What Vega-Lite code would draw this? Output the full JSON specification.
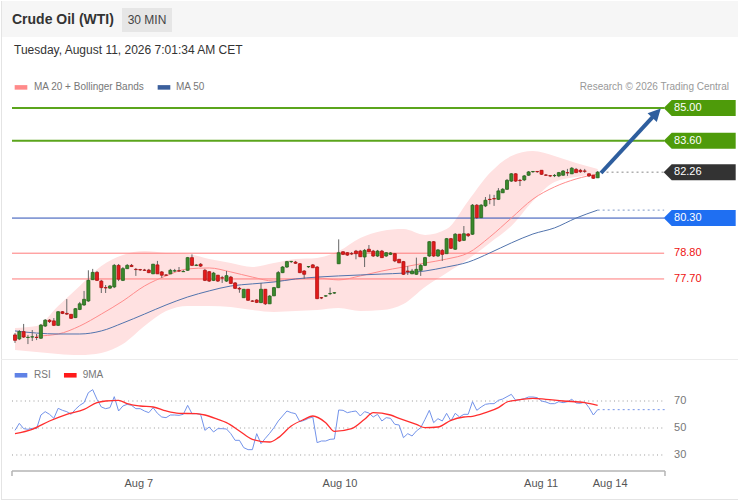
{
  "$schema": "https://vega.github.io/schema/vega-lite/v6.json",
  "padding": 0,
  "autosize": {"type": "pad"},
  "background": "#ffffff",
  "spacing": 0,
  "bounds": "flush",
  "config": {
    "view": {"stroke": null},
    "axis": {"disable": true},
    "scale": {"continuousPadding": 0},
    "font": "Liberation Sans"
  },
  "datasets": {
    "candles": [
      {"i":0,"o":75.31,"h":75.39,"l":74.97,"c":75.08},
      {"i":1,"o":75.14,"h":75.52,"l":75.09,"c":75.45},
      {"i":2,"o":75.45,"h":75.78,"l":75.18,"c":75.22},
      {"i":3,"o":75.20,"h":75.31,"l":74.92,"c":75.21},
      {"i":4,"o":75.22,"h":75.52,"l":75.05,"c":75.23},
      {"i":5,"o":75.21,"h":75.35,"l":75.09,"c":75.20},
      {"i":6,"o":75.17,"h":75.78,"l":75.14,"c":75.73},
      {"i":7,"o":75.69,"h":75.99,"l":75.65,"c":75.94},
      {"i":8,"o":75.94,"h":75.99,"l":75.82,"c":75.88},
      {"i":9,"o":75.91,"h":76.03,"l":75.69,"c":75.72},
      {"i":10,"o":75.72,"h":76.33,"l":75.69,"c":76.30},
      {"i":11,"o":76.30,"h":76.33,"l":76.20,"c":76.23},
      {"i":12,"o":76.23,"h":76.84,"l":76.16,"c":76.20},
      {"i":13,"o":76.19,"h":76.20,"l":75.99,"c":76.02},
      {"i":14,"o":76.05,"h":76.46,"l":76.03,"c":76.43},
      {"i":15,"o":76.40,"h":76.72,"l":76.37,"c":76.64},
      {"i":16,"o":76.59,"h":77.19,"l":76.55,"c":76.83},
      {"i":17,"o":76.76,"h":78.07,"l":76.72,"c":77.64},
      {"i":18,"o":77.67,"h":78.13,"l":77.66,"c":77.98},
      {"i":19,"o":77.98,"h":78.04,"l":77.61,"c":77.64},
      {"i":20,"o":77.61,"h":77.66,"l":77.10,"c":77.33},
      {"i":21,"o":77.33,"h":77.44,"l":77.10,"c":77.32},
      {"i":22,"o":77.31,"h":77.44,"l":77.27,"c":77.40},
      {"i":23,"o":77.36,"h":78.34,"l":77.31,"c":78.28},
      {"i":24,"o":78.28,"h":78.34,"l":77.61,"c":77.69},
      {"i":25,"o":77.64,"h":78.21,"l":77.61,"c":78.14},
      {"i":26,"o":78.14,"h":78.34,"l":78.13,"c":78.28},
      {"i":27,"o":78.28,"h":78.34,"l":78.21,"c":78.23},
      {"i":28,"o":78.11,"h":78.17,"l":77.83,"c":78.10},
      {"i":29,"o":78.10,"h":78.13,"l":78.04,"c":78.09},
      {"i":30,"o":78.08,"h":78.13,"l":78.04,"c":78.07},
      {"i":31,"o":78.08,"h":78.13,"l":77.95,"c":77.97},
      {"i":32,"o":77.92,"h":78.34,"l":77.91,"c":78.33},
      {"i":33,"o":78.30,"h":78.47,"l":77.91,"c":77.92},
      {"i":34,"o":78.00,"h":78.04,"l":77.75,"c":77.86},
      {"i":35,"o":77.87,"h":77.91,"l":77.83,"c":77.86},
      {"i":36,"o":77.92,"h":78.13,"l":77.91,"c":78.07},
      {"i":37,"o":78.04,"h":78.13,"l":78.00,"c":78.05},
      {"i":38,"o":78.05,"h":78.21,"l":78.00,"c":78.04},
      {"i":39,"o":78.01,"h":78.08,"l":78.00,"c":78.02},
      {"i":40,"o":78.07,"h":78.64,"l":78.04,"c":78.61},
      {"i":41,"o":78.61,"h":78.75,"l":78.25,"c":78.28},
      {"i":42,"o":78.28,"h":78.34,"l":78.25,"c":78.29},
      {"i":43,"o":78.33,"h":78.38,"l":78.21,"c":78.25},
      {"i":44,"o":78.07,"h":78.13,"l":77.61,"c":77.64},
      {"i":45,"o":78.01,"h":78.04,"l":77.57,"c":77.61},
      {"i":46,"o":77.64,"h":78.00,"l":77.61,"c":77.95},
      {"i":47,"o":77.86,"h":77.87,"l":77.57,"c":77.61},
      {"i":48,"o":77.75,"h":77.83,"l":77.53,"c":77.74},
      {"i":49,"o":77.61,"h":78.04,"l":77.57,"c":77.84},
      {"i":50,"o":77.78,"h":77.83,"l":77.49,"c":77.51},
      {"i":51,"o":77.53,"h":77.57,"l":77.27,"c":77.30},
      {"i":52,"o":77.30,"h":77.36,"l":77.11,"c":77.27},
      {"i":53,"o":76.90,"h":77.27,"l":76.89,"c":77.26},
      {"i":54,"o":77.26,"h":77.27,"l":76.76,"c":76.79},
      {"i":55,"o":76.76,"h":76.80,"l":76.72,"c":76.75},
      {"i":56,"o":76.80,"h":76.84,"l":76.67,"c":76.70},
      {"i":57,"o":76.69,"h":77.53,"l":76.67,"c":77.26},
      {"i":58,"o":77.26,"h":77.27,"l":76.59,"c":76.64},
      {"i":59,"o":76.64,"h":77.01,"l":76.63,"c":76.97},
      {"i":60,"o":76.98,"h":77.36,"l":76.97,"c":77.33},
      {"i":61,"o":77.33,"h":78.04,"l":77.31,"c":77.97},
      {"i":62,"o":77.97,"h":78.25,"l":77.95,"c":78.21},
      {"i":63,"o":78.21,"h":78.47,"l":78.17,"c":78.44},
      {"i":64,"o":78.44,"h":78.47,"l":78.38,"c":78.45},
      {"i":65,"o":78.42,"h":78.47,"l":78.34,"c":78.37},
      {"i":66,"o":78.35,"h":78.38,"l":77.95,"c":77.97},
      {"i":67,"o":78.04,"h":78.08,"l":77.71,"c":77.90},
      {"i":68,"o":78.22,"h":78.25,"l":78.17,"c":78.23},
      {"i":69,"o":78.30,"h":78.34,"l":78.17,"c":78.18},
      {"i":70,"o":78.21,"h":78.25,"l":76.84,"c":76.86},
      {"i":71,"o":76.90,"h":76.93,"l":76.84,"c":76.89},
      {"i":72,"o":76.97,"h":77.01,"l":76.93,"c":76.98},
      {"i":73,"o":77.07,"h":77.33,"l":77.01,"c":77.08},
      {"i":74,"o":77.10,"h":77.14,"l":77.06,"c":77.11},
      {"i":75,"o":78.35,"h":79.39,"l":78.34,"c":78.82},
      {"i":76,"o":78.86,"h":78.89,"l":78.72,"c":78.75},
      {"i":77,"o":78.82,"h":78.85,"l":78.68,"c":78.72},
      {"i":78,"o":78.78,"h":78.85,"l":78.72,"c":78.77},
      {"i":79,"o":78.89,"h":78.94,"l":78.54,"c":78.78},
      {"i":80,"o":78.89,"h":78.94,"l":78.64,"c":78.65},
      {"i":81,"o":78.64,"h":78.98,"l":78.21,"c":78.92},
      {"i":82,"o":78.97,"h":79.15,"l":78.85,"c":78.86},
      {"i":83,"o":78.89,"h":78.94,"l":78.64,"c":78.68},
      {"i":84,"o":78.68,"h":78.94,"l":78.64,"c":78.89},
      {"i":85,"o":78.89,"h":78.94,"l":78.60,"c":78.61},
      {"i":86,"o":78.68,"h":78.85,"l":78.64,"c":78.82},
      {"i":87,"o":78.75,"h":78.85,"l":78.72,"c":78.81},
      {"i":88,"o":78.78,"h":78.81,"l":78.42,"c":78.47},
      {"i":89,"o":78.54,"h":78.55,"l":78.38,"c":78.39},
      {"i":90,"o":78.44,"h":78.47,"l":77.87,"c":77.90},
      {"i":91,"o":78.04,"h":78.25,"l":77.87,"c":78.00},
      {"i":92,"o":77.92,"h":78.13,"l":77.91,"c":78.04},
      {"i":93,"o":77.90,"h":78.61,"l":77.87,"c":78.11},
      {"i":94,"o":78.07,"h":78.34,"l":77.83,"c":78.28},
      {"i":95,"o":78.28,"h":78.64,"l":78.25,"c":78.61},
      {"i":96,"o":78.68,"h":79.32,"l":78.64,"c":79.29},
      {"i":97,"o":79.29,"h":79.32,"l":78.64,"c":78.68},
      {"i":98,"o":78.68,"h":78.98,"l":78.64,"c":78.94},
      {"i":99,"o":78.92,"h":78.98,"l":78.47,"c":78.75},
      {"i":100,"o":78.78,"h":79.45,"l":78.77,"c":79.42},
      {"i":101,"o":79.42,"h":79.45,"l":78.98,"c":79.01},
      {"i":102,"o":78.97,"h":79.66,"l":78.94,"c":79.61},
      {"i":103,"o":79.61,"h":79.62,"l":79.28,"c":79.32},
      {"i":104,"o":79.35,"h":79.96,"l":79.32,"c":79.63},
      {"i":105,"o":79.62,"h":79.66,"l":79.49,"c":79.55},
      {"i":106,"o":79.61,"h":80.90,"l":79.58,"c":80.85},
      {"i":107,"o":80.85,"h":80.90,"l":80.26,"c":80.32},
      {"i":108,"o":80.32,"h":80.90,"l":80.30,"c":80.85},
      {"i":109,"o":80.82,"h":81.20,"l":80.77,"c":81.06},
      {"i":110,"o":81.10,"h":81.31,"l":80.89,"c":81.09},
      {"i":111,"o":81.13,"h":81.29,"l":80.82,"c":81.12},
      {"i":112,"o":81.10,"h":81.58,"l":81.07,"c":81.46},
      {"i":113,"o":81.38,"h":81.58,"l":81.37,"c":81.53},
      {"i":114,"o":81.53,"h":81.97,"l":81.50,"c":81.91},
      {"i":115,"o":81.88,"h":82.22,"l":81.84,"c":82.19},
      {"i":116,"o":82.19,"h":82.22,"l":81.84,"c":81.88},
      {"i":117,"o":81.91,"h":81.97,"l":81.67,"c":81.90},
      {"i":118,"o":81.93,"h":82.14,"l":81.88,"c":82.10},
      {"i":119,"o":82.13,"h":82.31,"l":82.10,"c":82.27},
      {"i":120,"o":82.28,"h":82.31,"l":82.23,"c":82.29},
      {"i":121,"o":82.29,"h":82.31,"l":82.23,"c":82.28},
      {"i":122,"o":82.34,"h":82.35,"l":82.14,"c":82.17},
      {"i":123,"o":82.14,"h":82.18,"l":82.10,"c":82.13},
      {"i":124,"o":82.11,"h":82.14,"l":82.05,"c":82.10},
      {"i":125,"o":82.11,"h":82.18,"l":82.05,"c":82.12},
      {"i":126,"o":82.10,"h":82.27,"l":82.05,"c":82.24},
      {"i":127,"o":82.13,"h":82.35,"l":82.10,"c":82.31},
      {"i":128,"o":82.24,"h":82.40,"l":82.10,"c":82.23},
      {"i":129,"o":82.19,"h":82.48,"l":82.18,"c":82.43},
      {"i":130,"o":82.38,"h":82.44,"l":82.23,"c":82.24},
      {"i":131,"o":82.34,"h":82.40,"l":82.23,"c":82.28},
      {"i":132,"o":82.31,"h":82.40,"l":82.23,"c":82.30},
      {"i":133,"o":82.19,"h":82.22,"l":82.05,"c":82.10},
      {"i":134,"o":82.13,"h":82.14,"l":81.97,"c":82.00},
      {"i":135,"o":82.02,"h":82.31,"l":82.01,"c":82.26}
    ],
    "bands": [
      {"i":0,"up":75.61,"lo":74.67,"ma50":75.48},
      {"i":5,"up":75.69,"lo":74.58,"ma20":75.26,"ma50":75.39},
      {"i":10,"up":76.55,"lo":74.50,"ma20":75.35,"ma50":75.35},
      {"i":15,"up":77.40,"lo":74.45,"ma20":75.69,"ma50":75.35},
      {"i":20,"up":78.25,"lo":74.54,"ma20":76.20,"ma50":75.48},
      {"i":25,"up":78.72,"lo":74.92,"ma20":76.76,"ma50":75.82},
      {"i":30,"up":78.89,"lo":75.69,"ma20":77.40,"ma50":76.20},
      {"i":35,"up":78.81,"lo":76.33,"ma20":77.83,"ma50":76.59},
      {"i":40,"up":78.77,"lo":76.55,"ma20":78.13,"ma50":76.93},
      {"i":45,"up":78.55,"lo":76.55,"ma20":78.17,"ma50":77.19},
      {"i":50,"up":78.38,"lo":76.50,"ma20":78.00,"ma50":77.40},
      {"i":55,"up":78.21,"lo":76.37,"ma20":77.78,"ma50":77.49},
      {"i":60,"up":78.38,"lo":76.29,"ma20":77.61,"ma50":77.57},
      {"i":65,"up":78.55,"lo":76.33,"ma20":77.70,"ma50":77.70},
      {"i":70,"up":78.60,"lo":76.37,"ma20":77.74,"ma50":77.78},
      {"i":75,"up":78.89,"lo":76.46,"ma20":77.66,"ma50":77.83},
      {"i":80,"up":79.45,"lo":76.33,"ma20":77.83,"ma50":77.87},
      {"i":85,"up":79.75,"lo":76.37,"ma20":78.04,"ma50":77.91},
      {"i":90,"up":79.83,"lo":76.63,"ma20":78.21,"ma50":77.95},
      {"i":95,"up":79.58,"lo":77.36,"ma20":78.38,"ma50":78.04},
      {"i":100,"up":79.83,"lo":77.95,"ma20":78.55,"ma50":78.21},
      {"i":105,"up":81.03,"lo":78.55,"ma20":78.81,"ma50":78.42},
      {"i":110,"up":82.22,"lo":79.24,"ma20":79.49,"ma50":78.81},
      {"i":115,"up":82.95,"lo":79.96,"ma20":80.30,"ma50":79.24},
      {"i":120,"up":83.16,"lo":81.03,"ma20":81.11,"ma50":79.62},
      {"i":125,"up":82.95,"lo":81.84,"ma20":81.63,"ma50":79.88},
      {"i":130,"up":82.65,"lo":82.05,"ma20":81.97,"ma50":80.30},
      {"i":135,"up":82.40,"lo":82.18,"ma20":82.18,"ma50":80.64}
    ],
    "levels": [
      {"price":85.00,"label":"85.00","role":"target"},
      {"price":83.60,"label":"83.60","role":"target"},
      {"price":82.26,"label":"82.26","role":"last"},
      {"price":80.30,"label":"80.30","role":"pivot"},
      {"price":78.80,"label":"78.80","role":"support"},
      {"price":77.70,"label":"77.70","role":"support"}
    ],
    "rsi": [
      {"i":0,"v":48.27},{"i":1,"v":53.46},{"i":2,"v":49.51},{"i":3,"v":49.02},{"i":4,"v":49.76},
      {"i":5,"v":49.51},{"i":6,"v":59.63},{"i":7,"v":62.10},{"i":8,"v":60.13},{"i":9,"v":57.16},
      {"i":10,"v":64.57},{"i":11,"v":63.09},{"i":12,"v":62.10},{"i":13,"v":60.13},{"i":14,"v":63.83},
      {"i":15,"v":66.79},{"i":16,"v":68.77},{"i":17,"v":76.17},{"i":18,"v":78.40},{"i":19,"v":71.24},
      {"i":20,"v":65.56},{"i":21,"v":64.32},{"i":22,"v":65.07},{"i":23,"v":73.21},{"i":24,"v":62.60},
      {"i":25,"v":66.30},{"i":26,"v":67.53},{"i":27,"v":66.79},{"i":28,"v":64.32},{"i":29,"v":64.32},
      {"i":30,"v":62.60},{"i":31,"v":61.36},{"i":32,"v":65.07},{"i":33,"v":60.87},{"i":34,"v":58.15},
      {"i":35,"v":57.66},{"i":36,"v":59.63},{"i":37,"v":59.63},{"i":38,"v":59.39},{"i":39,"v":60.13},
      {"i":40,"v":66.79},{"i":41,"v":60.62},{"i":42,"v":60.62},{"i":43,"v":60.13},{"i":44,"v":48.27},
      {"i":45,"v":50.74},{"i":46,"v":47.04},{"i":47,"v":49.51},{"i":48,"v":49.51},{"i":49,"v":49.26},
      {"i":50,"v":45.81},{"i":51,"v":40.87},{"i":52,"v":40.87},{"i":53,"v":35.44},{"i":54,"v":33.96},
      {"i":55,"v":33.96},{"i":56,"v":45.81},{"i":57,"v":38.40},{"i":58,"v":42.35},{"i":59,"v":46.05},
      {"i":60,"v":50.25},{"i":61,"v":55.19},{"i":62,"v":58.89},{"i":63,"v":62.60},{"i":64,"v":61.36},
      {"i":65,"v":60.62},{"i":66,"v":54.69},{"i":67,"v":55.68},{"i":68,"v":57.16},{"i":69,"v":58.15},
      {"i":70,"v":39.14},{"i":71,"v":40.38},{"i":72,"v":40.38},{"i":73,"v":41.61},{"i":74,"v":41.86},
      {"i":75,"v":63.34},{"i":76,"v":63.09},{"i":77,"v":61.36},{"i":78,"v":62.10},{"i":79,"v":62.60},
      {"i":80,"v":58.89},{"i":81,"v":62.10},{"i":82,"v":61.11},{"i":83,"v":58.15},{"i":84,"v":60.13},
      {"i":85,"v":55.19},{"i":86,"v":57.66},{"i":87,"v":57.16},{"i":88,"v":52.72},{"i":89,"v":52.23},
      {"i":90,"v":42.84},{"i":91,"v":45.81},{"i":92,"v":44.08},{"i":93,"v":47.78},{"i":94,"v":50.25},
      {"i":95,"v":56.42},{"i":96,"v":63.09},{"i":97,"v":53.96},{"i":98,"v":56.92},{"i":99,"v":55.19},
      {"i":100,"v":60.87},{"i":101,"v":55.19},{"i":102,"v":60.87},{"i":103,"v":58.15},{"i":104,"v":60.13},
      {"i":105,"v":60.13},{"i":106,"v":69.51},{"i":107,"v":63.09},{"i":108,"v":65.56},{"i":109,"v":67.53},
      {"i":110,"v":68.03},{"i":111,"v":68.03},{"i":112,"v":70.50},{"i":113,"v":71.48},{"i":114,"v":73.21},
      {"i":115,"v":74.94},{"i":116,"v":70.50},{"i":117,"v":70.99},{"i":118,"v":71.73},{"i":119,"v":72.97},
      {"i":120,"v":72.97},{"i":121,"v":72.47},{"i":122,"v":70.00},{"i":123,"v":69.26},{"i":124,"v":68.03},
      {"i":125,"v":68.03},{"i":126,"v":69.51},{"i":127,"v":68.77},{"i":128,"v":69.51},{"i":129,"v":71.24},
      {"i":130,"v":68.52},{"i":131,"v":68.27},{"i":132,"v":69.26},{"i":133,"v":65.07},{"i":134,"v":59.63},
      {"i":135,"v":63.58}
    ],
    "ma9": [
      {"i":0,"v":45.81},{"i":4,"v":49.02},{"i":8,"v":55.19},{"i":12,"v":60.13},{"i":16,"v":63.83},
      {"i":19,"v":68.77},{"i":21,"v":70.00},{"i":24,"v":70.50},{"i":26,"v":68.03},{"i":29,"v":66.30},
      {"i":32,"v":65.56},{"i":35,"v":62.60},{"i":38,"v":60.87},{"i":42,"v":60.62},{"i":44,"v":59.63},
      {"i":47,"v":56.42},{"i":49,"v":53.96},{"i":52,"v":47.78},{"i":55,"v":41.61},{"i":59,"v":39.63},
      {"i":61,"v":42.84},{"i":64,"v":51.49},{"i":67,"v":56.42},{"i":69,"v":58.89},{"i":72,"v":53.96},
      {"i":74,"v":47.50},{"i":78,"v":49.51},{"i":81,"v":56.42},{"i":83,"v":61.36},{"i":87,"v":59.63},
      {"i":89,"v":57.16},{"i":93,"v":52.72},{"i":95,"v":50.25},{"i":98,"v":50.74},{"i":101,"v":55.68},
      {"i":104,"v":58.15},{"i":106,"v":58.64},{"i":109,"v":61.36},{"i":112,"v":65.07},{"i":114,"v":69.26},
      {"i":116,"v":70.50},{"i":120,"v":71.98},{"i":123,"v":71.24},{"i":127,"v":70.00},{"i":132,"v":68.77},
      {"i":135,"v":66.79}
    ],
    "dates": [
      {"i":28.7,"label":"Aug 7"},
      {"i":75.3,"label":"Aug 10"},
      {"i":121.9,"label":"Aug 11"},
      {"i":137.9,"label":"Aug 14"}
    ]
  },
  "vconcat": [
    {
      "width": 738,
      "height": 360,
      "layer": [
        {
          "data": {"values": [{}]},
          "mark": {"type": "rect", "color": "#f6f6f6"},
          "encoding": {
            "x": {"datum": -3.244, "type": "quantitative", "scale": {"domain": [-3.244, 167.748], "nice": false, "zero": false, "padding": 0}},
            "x2": {"datum": 167.748},
            "y": {"datum": 89.569, "type": "quantitative", "scale": {"domain": [74.197, 89.569], "nice": false, "zero": false, "padding": 0}},
            "y2": {"datum": 88.032}
          }
        },
        {
          "data": {"values": [{}]},
          "mark": {"type": "rect", "color": "#e6e6e6"},
          "encoding": {
            "x": {"datum": 24.79, "type": "quantitative", "scale": {"domain": [-3.244, 167.748], "nice": false, "zero": false, "padding": 0}},
            "x2": {"datum": 36.38},
            "y": {"datum": 89.27, "type": "quantitative", "scale": {"domain": [74.197, 89.569], "nice": false, "zero": false, "padding": 0}},
            "y2": {"datum": 88.245}
          }
        },
        {
          "data": {"values": [{"e": -3.128}, {"e": 167.63}]},
          "mark": {"type": "rule", "color": "#e4e4e4", "strokeWidth": 1},
          "encoding": {
            "x": {"field": "e", "type": "quantitative", "scale": {"domain": [-3.244, 167.748], "nice": false, "zero": false, "padding": 0}},
            "y": {"datum": 89.569, "type": "quantitative", "scale": {"domain": [74.197, 89.569], "nice": false, "zero": false, "padding": 0}},
            "y2": {"datum": 74.197}
          }
        },
        {
          "data": {"values": [{}]},
          "mark": {"type": "text", "text": "Crude Oil (WTI)", "align": "left", "baseline": "middle", "fontSize": 14, "fontWeight": "bold", "color": "#333333"},
          "encoding": {
            "x": {"datum": -0.695, "type": "quantitative", "scale": {"domain": [-3.244, 167.748], "nice": false, "zero": false, "padding": 0}},
            "y": {"datum": 88.74, "type": "quantitative", "scale": {"domain": [74.197, 89.569], "nice": false, "zero": false, "padding": 0}}
          }
        },
        {
          "data": {"values": [{}]},
          "mark": {"type": "text", "text": "30 MIN", "align": "center", "baseline": "middle", "fontSize": 12, "color": "#444444"},
          "encoding": {
            "x": {"datum": 30.58, "type": "quantitative", "scale": {"domain": [-3.244, 167.748], "nice": false, "zero": false, "padding": 0}},
            "y": {"datum": 88.74, "type": "quantitative", "scale": {"domain": [74.197, 89.569], "nice": false, "zero": false, "padding": 0}}
          }
        },
        {
          "data": {"values": [{}]},
          "mark": {"type": "text", "text": "Tuesday, August 11, 2026 7:01:34 AM CET", "align": "left", "baseline": "middle", "fontSize": 12, "color": "#333333"},
          "encoding": {
            "x": {"datum": -0.232, "type": "quantitative", "scale": {"domain": [-3.244, 167.748], "nice": false, "zero": false, "padding": 0}},
            "y": {"datum": 87.48, "type": "quantitative", "scale": {"domain": [74.197, 89.569], "nice": false, "zero": false, "padding": 0}}
          }
        },
        {
          "data": {"values": [{}]},
          "mark": {"type": "point", "shape": "M-1,-0.36H1V0.36H-1Z", "size": 160, "filled": true, "opacity": 1, "color": "#ff8a8a"},
          "encoding": {
            "x": {"datum": 1.39, "type": "quantitative", "scale": {"domain": [-3.244, 167.748], "nice": false, "zero": false, "padding": 0}},
            "y": {"datum": 85.88, "type": "quantitative", "scale": {"domain": [74.197, 89.569], "nice": false, "zero": false, "padding": 0}}
          }
        },
        {
          "data": {"values": [{}]},
          "mark": {"type": "text", "text": "MA 20 + Bollinger Bands", "align": "left", "baseline": "middle", "fontSize": 10, "color": "#777777"},
          "encoding": {
            "x": {"datum": 4.40, "type": "quantitative", "scale": {"domain": [-3.244, 167.748], "nice": false, "zero": false, "padding": 0}},
            "y": {"datum": 85.88, "type": "quantitative", "scale": {"domain": [74.197, 89.569], "nice": false, "zero": false, "padding": 0}}
          }
        },
        {
          "data": {"values": [{}]},
          "mark": {"type": "point", "shape": "M-1,-0.36H1V0.36H-1Z", "size": 160, "filled": true, "opacity": 1, "color": "#3b5f9c"},
          "encoding": {
            "x": {"datum": 34.52, "type": "quantitative", "scale": {"domain": [-3.244, 167.748], "nice": false, "zero": false, "padding": 0}},
            "y": {"datum": 85.88, "type": "quantitative", "scale": {"domain": [74.197, 89.569], "nice": false, "zero": false, "padding": 0}}
          }
        },
        {
          "data": {"values": [{}]},
          "mark": {"type": "text", "text": "MA 50", "align": "left", "baseline": "middle", "fontSize": 10, "color": "#777777"},
          "encoding": {
            "x": {"datum": 37.30, "type": "quantitative", "scale": {"domain": [-3.244, 167.748], "nice": false, "zero": false, "padding": 0}},
            "y": {"datum": 85.88, "type": "quantitative", "scale": {"domain": [74.197, 89.569], "nice": false, "zero": false, "padding": 0}}
          }
        },
        {
          "data": {"values": [{}]},
          "mark": {"type": "text", "text": "Research © 2026 Trading Central", "align": "right", "baseline": "middle", "fontSize": 10, "color": "#999999"},
          "encoding": {
            "x": {"datum": 165.43, "type": "quantitative", "scale": {"domain": [-3.244, 167.748], "nice": false, "zero": false, "padding": 0}},
            "y": {"datum": 85.88, "type": "quantitative", "scale": {"domain": [74.197, 89.569], "nice": false, "zero": false, "padding": 0}}
          }
        },
        {
          "data": {"name": "bands"},
          "mark": {"type": "area", "color": "#ffe1e1", "opacity": 1, "interpolate": "monotone"},
          "encoding": {
            "x": {"field": "i", "type": "quantitative", "scale": {"domain": [-3.244, 167.748], "nice": false, "zero": false, "padding": 0}},
            "y": {"field": "up", "type": "quantitative", "scale": {"domain": [74.197, 89.569], "nice": false, "zero": false, "padding": 0}},
            "y2": {"field": "lo"}
          }
        },
        {
          "data": {"name": "levels"},
          "transform": [{"filter": "datum.role == 'target'"}],
          "mark": {"type": "rule", "color": "#5ba51c", "strokeWidth": 2},
          "encoding": {
            "x": {"datum": -0.695, "type": "quantitative", "scale": {"domain": [-3.244, 167.748], "nice": false, "zero": false, "padding": 0}},
            "x2": {"datum": 150.4},
            "y": {"field": "price", "type": "quantitative", "scale": {"domain": [74.197, 89.569], "nice": false, "zero": false, "padding": 0}}
          }
        },
        {
          "data": {"name": "levels"},
          "transform": [{"filter": "datum.role == 'pivot'"}],
          "mark": {"type": "rule", "color": "#2b4fb5", "strokeWidth": 1},
          "encoding": {
            "x": {"datum": -0.695, "type": "quantitative", "scale": {"domain": [-3.244, 167.748], "nice": false, "zero": false, "padding": 0}},
            "x2": {"datum": 150.4},
            "y": {"field": "price", "type": "quantitative", "scale": {"domain": [74.197, 89.569], "nice": false, "zero": false, "padding": 0}}
          }
        },
        {
          "data": {"name": "levels"},
          "transform": [{"filter": "datum.role == 'support'"}],
          "mark": {"type": "rule", "color": "#ff7a7a", "strokeWidth": 1},
          "encoding": {
            "x": {"datum": -0.695, "type": "quantitative", "scale": {"domain": [-3.244, 167.748], "nice": false, "zero": false, "padding": 0}},
            "x2": {"datum": 150.4},
            "y": {"field": "price", "type": "quantitative", "scale": {"domain": [74.197, 89.569], "nice": false, "zero": false, "padding": 0}}
          }
        },
        {
          "data": {"name": "bands"},
          "mark": {"type": "line", "color": "#ff8c8c", "strokeWidth": 1, "interpolate": "monotone"},
          "encoding": {
            "x": {"field": "i", "type": "quantitative", "scale": {"domain": [-3.244, 167.748], "nice": false, "zero": false, "padding": 0}},
            "y": {"field": "ma20", "type": "quantitative", "scale": {"domain": [74.197, 89.569], "nice": false, "zero": false, "padding": 0}}
          }
        },
        {
          "data": {"name": "bands"},
          "mark": {"type": "line", "color": "#5274ad", "strokeWidth": 1, "interpolate": "monotone"},
          "encoding": {
            "x": {"field": "i", "type": "quantitative", "scale": {"domain": [-3.244, 167.748], "nice": false, "zero": false, "padding": 0}},
            "y": {"field": "ma50", "type": "quantitative", "scale": {"domain": [74.197, 89.569], "nice": false, "zero": false, "padding": 0}}
          }
        },
        {
          "data": {"values": [{}]},
          "mark": {"type": "rule", "color": "#7f98c6", "strokeWidth": 1, "strokeDash": [2, 3]},
          "encoding": {
            "x": {"datum": 135, "type": "quantitative", "scale": {"domain": [-3.244, 167.748], "nice": false, "zero": false, "padding": 0}},
            "x2": {"datum": 150.4},
            "y": {"datum": 80.64, "type": "quantitative", "scale": {"domain": [74.197, 89.569], "nice": false, "zero": false, "padding": 0}}
          }
        },
        {
          "data": {"name": "candles"},
          "mark": {"type": "rule", "color": "#666666", "strokeWidth": 1},
          "encoding": {
            "x": {"field": "i", "type": "quantitative", "scale": {"domain": [-3.244, 167.748], "nice": false, "zero": false, "padding": 0}},
            "y": {"field": "l", "type": "quantitative", "scale": {"domain": [74.197, 89.569], "nice": false, "zero": false, "padding": 0}},
            "y2": {"field": "h"}
          }
        },
        {
          "data": {"name": "candles"},
          "mark": {"type": "bar", "width": 3, "strokeWidth": 0.8},
          "encoding": {
            "x": {"field": "i", "type": "quantitative", "scale": {"domain": [-3.244, 167.748], "nice": false, "zero": false, "padding": 0}},
            "y": {"field": "o", "type": "quantitative", "scale": {"domain": [74.197, 89.569], "nice": false, "zero": false, "padding": 0}},
            "y2": {"field": "c"},
            "fill": {"condition": {"test": "datum.c >= datum.o", "value": "#3a8a2c"}, "value": "#e31b1b"},
            "stroke": {"condition": {"test": "datum.c >= datum.o", "value": "#27661d"}, "value": "#b01212"}
          }
        },
        {
          "data": {"name": "levels"},
          "transform": [{"filter": "datum.role == 'last'"}],
          "mark": {"type": "rule", "color": "#888888", "strokeWidth": 1, "strokeDash": [2, 3]},
          "encoding": {
            "x": {"datum": 135.9, "type": "quantitative", "scale": {"domain": [-3.244, 167.748], "nice": false, "zero": false, "padding": 0}},
            "x2": {"datum": 150.4},
            "y": {"field": "price", "type": "quantitative", "scale": {"domain": [74.197, 89.569], "nice": false, "zero": false, "padding": 0}}
          }
        },
        {
          "data": {"values": [{}]},
          "mark": {"type": "rule", "color": "#2e5e9e", "strokeWidth": 4},
          "encoding": {
            "x": {"datum": 135.77, "type": "quantitative", "scale": {"domain": [-3.244, 167.748], "nice": false, "zero": false, "padding": 0}},
            "x2": {"datum": 147.94},
            "y": {"datum": 82.225, "type": "quantitative", "scale": {"domain": [74.197, 89.569], "nice": false, "zero": false, "padding": 0}},
            "y2": {"datum": 84.65}
          }
        },
        {
          "data": {"values": [{}]},
          "mark": {"type": "point", "shape": "M0,-1L0.9,0.8L-0.9,0.8Z", "size": 196, "angle": 43, "filled": true, "opacity": 1, "color": "#2e5e9e"},
          "encoding": {
            "x": {"datum": 148.52, "type": "quantitative", "scale": {"domain": [-3.244, 167.748], "nice": false, "zero": false, "padding": 0}},
            "y": {"datum": 84.765, "type": "quantitative", "scale": {"domain": [74.197, 89.569], "nice": false, "zero": false, "padding": 0}}
          }
        },
        {
          "data": {"name": "levels"},
          "transform": [{"filter": "datum.role != 'support'"}],
          "mark": {"type": "point", "shape": "M-1,0L-0.778,-0.222L1,-0.222L1,0.222L-0.778,0.222Z", "size": 5184, "filled": true, "opacity": 1, "strokeWidth": 0},
          "encoding": {
            "x": {"datum": 158.64, "type": "quantitative", "scale": {"domain": [-3.244, 167.748], "nice": false, "zero": false, "padding": 0}},
            "y": {"field": "price", "type": "quantitative", "scale": {"domain": [74.197, 89.569], "nice": false, "zero": false, "padding": 0}},
            "fill": {"field": "role", "type": "nominal", "scale": {"domain": ["target", "last", "pivot"], "range": ["#4e9b0a", "#333333", "#1f6ff2"]}, "legend": null}
          }
        },
        {
          "data": {"name": "levels"},
          "transform": [{"filter": "datum.role != 'support'"}],
          "mark": {"type": "text", "align": "left", "baseline": "middle", "fontSize": 11, "color": "#ffffff"},
          "encoding": {
            "x": {"datum": 152.69, "type": "quantitative", "scale": {"domain": [-3.244, 167.748], "nice": false, "zero": false, "padding": 0}},
            "y": {"field": "price", "type": "quantitative", "scale": {"domain": [74.197, 89.569], "nice": false, "zero": false, "padding": 0}},
            "text": {"field": "label"}
          }
        },
        {
          "data": {"name": "levels"},
          "transform": [{"filter": "datum.role == 'support'"}],
          "mark": {"type": "text", "align": "left", "baseline": "middle", "fontSize": 11, "color": "#ee1111"},
          "encoding": {
            "x": {"datum": 152.69, "type": "quantitative", "scale": {"domain": [-3.244, 167.748], "nice": false, "zero": false, "padding": 0}},
            "y": {"field": "price", "type": "quantitative", "scale": {"domain": [74.197, 89.569], "nice": false, "zero": false, "padding": 0}},
            "text": {"field": "label"}
          }
        },
        {
          "data": {"values": [{}]},
          "mark": {"type": "rule", "color": "#ececec", "strokeWidth": 1},
          "encoding": {
            "x": {"datum": -3.244, "type": "quantitative", "scale": {"domain": [-3.244, 167.748], "nice": false, "zero": false, "padding": 0}},
            "x2": {"datum": 167.748},
            "y": {"datum": 74.261, "type": "quantitative", "scale": {"domain": [74.197, 89.569], "nice": false, "zero": false, "padding": 0}}
          }
        }
      ]
    },
    {
      "width": 738,
      "height": 110,
      "layer": [
        {
          "data": {"values": [{"e": -3.128}, {"e": 167.63}]},
          "mark": {"type": "rule", "color": "#e4e4e4", "strokeWidth": 1},
          "encoding": {
            "x": {"field": "e", "type": "quantitative", "scale": {"domain": [-3.244, 167.748], "nice": false, "zero": false}},
            "y": {"datum": 99.63, "type": "quantitative", "scale": {"domain": [18.148, 99.63], "nice": false, "zero": false}},
            "y2": {"datum": -2.96}
          }
        },
        {
          "data": {"values": [{}]},
          "mark": {"type": "rule", "color": "#e4e4e4", "strokeWidth": 1},
          "encoding": {
            "x": {"datum": -3.244, "type": "quantitative", "scale": {"domain": [-3.244, 167.748], "nice": false, "zero": false}},
            "x2": {"datum": 167.748},
            "y": {"datum": -2.96, "type": "quantitative", "scale": {"domain": [18.148, 99.63], "nice": false, "zero": false}}
          }
        },
        {
          "data": {"values": [{"v": 70}, {"v": 50}, {"v": 30}]},
          "mark": {"type": "rule", "color": "#9a9a9a", "strokeWidth": 1, "strokeDash": [1, 3.3]},
          "encoding": {
            "x": {"datum": -0.695, "type": "quantitative", "scale": {"domain": [-3.244, 167.748], "nice": false, "zero": false}},
            "x2": {"datum": 150.6},
            "y": {"field": "v", "type": "quantitative", "scale": {"domain": [18.148, 99.63], "nice": false, "zero": false}}
          }
        },
        {
          "data": {"values": [{"v": 70}, {"v": 50}, {"v": 30}]},
          "mark": {"type": "text", "align": "left", "baseline": "middle", "fontSize": 11, "color": "#777777"},
          "encoding": {
            "x": {"datum": 152.69, "type": "quantitative", "scale": {"domain": [-3.244, 167.748], "nice": false, "zero": false}},
            "y": {"field": "v", "type": "quantitative", "scale": {"domain": [18.148, 99.63], "nice": false, "zero": false}},
            "text": {"field": "v"}
          }
        },
        {
          "data": {"name": "rsi"},
          "mark": {"type": "line", "color": "#7393ea", "strokeWidth": 1},
          "encoding": {
            "x": {"field": "i", "type": "quantitative", "scale": {"domain": [-3.244, 167.748], "nice": false, "zero": false}},
            "y": {"field": "v", "type": "quantitative", "scale": {"domain": [18.148, 99.63], "nice": false, "zero": false}}
          }
        },
        {
          "data": {"values": [{}]},
          "mark": {"type": "rule", "color": "#7393ea", "strokeWidth": 1, "strokeDash": [2, 3]},
          "encoding": {
            "x": {"datum": 135, "type": "quantitative", "scale": {"domain": [-3.244, 167.748], "nice": false, "zero": false}},
            "x2": {"datum": 150.6},
            "y": {"datum": 63.58, "type": "quantitative", "scale": {"domain": [18.148, 99.63], "nice": false, "zero": false}}
          }
        },
        {
          "data": {"name": "ma9"},
          "mark": {"type": "line", "color": "#ff2e2e", "strokeWidth": 1.3, "interpolate": "monotone"},
          "encoding": {
            "x": {"field": "i", "type": "quantitative", "scale": {"domain": [-3.244, 167.748], "nice": false, "zero": false}},
            "y": {"field": "v", "type": "quantitative", "scale": {"domain": [18.148, 99.63], "nice": false, "zero": false}}
          }
        },
        {
          "data": {"values": [{}]},
          "mark": {"type": "point", "shape": "M-1,-0.36H1V0.36H-1Z", "size": 160, "filled": true, "opacity": 1, "color": "#5f82e6"},
          "encoding": {
            "x": {"datum": 1.39, "type": "quantitative", "scale": {"domain": [-3.244, 167.748], "nice": false, "zero": false}},
            "y": {"datum": 89.04, "type": "quantitative", "scale": {"domain": [18.148, 99.63], "nice": false, "zero": false}}
          }
        },
        {
          "data": {"values": [{}]},
          "mark": {"type": "text", "text": "RSI", "align": "left", "baseline": "middle", "fontSize": 10, "color": "#777777"},
          "encoding": {
            "x": {"datum": 4.40, "type": "quantitative", "scale": {"domain": [-3.244, 167.748], "nice": false, "zero": false}},
            "y": {"datum": 89.04, "type": "quantitative", "scale": {"domain": [18.148, 99.63], "nice": false, "zero": false}}
          }
        },
        {
          "data": {"values": [{}]},
          "mark": {"type": "point", "shape": "M-1,-0.36H1V0.36H-1Z", "size": 160, "filled": true, "opacity": 1, "color": "#ff1a1a"},
          "encoding": {
            "x": {"datum": 12.81, "type": "quantitative", "scale": {"domain": [-3.244, 167.748], "nice": false, "zero": false}},
            "y": {"datum": 89.04, "type": "quantitative", "scale": {"domain": [18.148, 99.63], "nice": false, "zero": false}}
          }
        },
        {
          "data": {"values": [{}]},
          "mark": {"type": "text", "text": "9MA", "align": "left", "baseline": "middle", "fontSize": 10, "color": "#777777"},
          "encoding": {
            "x": {"datum": 15.69, "type": "quantitative", "scale": {"domain": [-3.244, 167.748], "nice": false, "zero": false}},
            "y": {"datum": 89.04, "type": "quantitative", "scale": {"domain": [18.148, 99.63], "nice": false, "zero": false}}
          }
        },
        {
          "data": {"values": [{}]},
          "mark": {"type": "rule", "color": "#b5b5b5", "strokeWidth": 1.5},
          "encoding": {
            "x": {"datum": -0.695, "type": "quantitative", "scale": {"domain": [-3.244, 167.748], "nice": false, "zero": false}},
            "x2": {"datum": 150.6},
            "y": {"datum": 18.148, "type": "quantitative", "scale": {"domain": [18.148, 99.63], "nice": false, "zero": false}}
          }
        },
        {
          "data": {"values": [{"i": -0.695}, {"i": 150.6}]},
          "mark": {"type": "rule", "color": "#b5b5b5", "strokeWidth": 1.5},
          "encoding": {
            "x": {"field": "i", "type": "quantitative", "scale": {"domain": [-3.244, 167.748], "nice": false, "zero": false}},
            "y": {"datum": 18.148, "type": "quantitative", "scale": {"domain": [18.148, 99.63], "nice": false, "zero": false}},
            "y2": {"datum": 14.44}
          }
        },
        {
          "data": {"name": "dates"},
          "mark": {"type": "text", "align": "center", "baseline": "middle", "fontSize": 11, "color": "#555555"},
          "encoding": {
            "x": {"field": "i", "type": "quantitative", "scale": {"domain": [-3.244, 167.748], "nice": false, "zero": false}},
            "y": {"datum": 8.52, "type": "quantitative", "scale": {"domain": [18.148, 99.63], "nice": false, "zero": false}},
            "text": {"field": "label"}
          }
        }
      ]
    }
  ]
}
